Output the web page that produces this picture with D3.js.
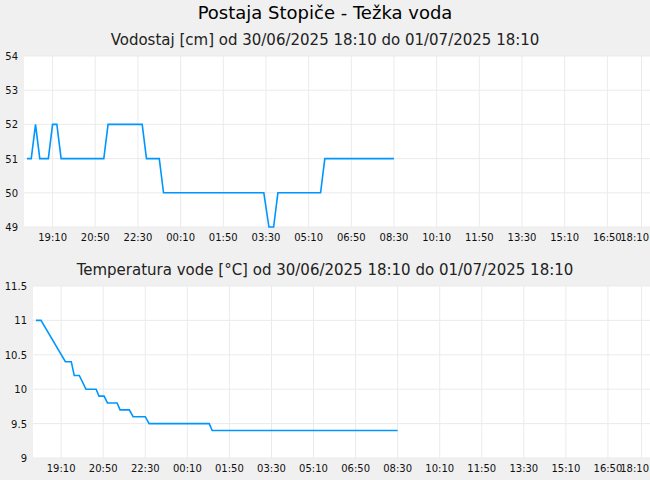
<!DOCTYPE html>
<html><head><meta charset="utf-8">
<script src="https://cdn.jsdelivr.net/npm/d3@7"></script>
<style>body{margin:0;background:#f0f0f0;}svg{display:block;font-family:"DejaVu Sans",sans-serif;}</style>
</head><body><svg id="c" width="650" height="480"></svg>
<script>
const levelTimes = ["06-30 18:10","06-30 18:20","06-30 18:30","06-30 18:40","06-30 19:00","06-30 19:10","06-30 19:20","06-30 19:30","06-30 21:10","06-30 21:20","06-30 22:40","06-30 22:50","06-30 23:20","06-30 23:30","07-01 03:25","07-01 03:37","07-01 03:48","07-01 03:58","07-01 05:38","07-01 05:48","07-01 08:30"];
const levelValues = [51,51,52,51,51,52,52,51,51,52,52,51,51,50,50,49,49,50,50,51,51];
const tempTimes = ["06-30 18:10","06-30 18:22","06-30 19:20","06-30 19:34","06-30 19:41","06-30 19:53","06-30 20:09","06-30 20:33","06-30 20:40","06-30 20:52","06-30 21:00","06-30 21:23","06-30 21:30","06-30 21:52","06-30 22:01","06-30 22:30","06-30 22:39","07-01 01:02","07-01 01:09","07-01 08:30"];
const tempValues = [11,11,10.4,10.4,10.2,10.2,10.0,10.0,9.9,9.9,9.8,9.8,9.7,9.7,9.6,9.6,9.5,9.5,9.4,9.4];
const xTickLabels = ["19:10","20:50","22:30","00:10","01:50","03:30","05:10","06:50","08:30","10:10","11:50","13:30","15:10","16:50","18:10"];
const levelTicks = [49,50,51,52,53,54];
const tempTicks = [9,9.5,10,10.5,11,11.5];

const parse = s => { const [md,hm]=s.split(" "); const [mo,d]=md.split("-").map(Number); const [h,m]=hm.split(":").map(Number); return new Date(2025,mo-1,d,h,m); };
const tickDates = xTickLabels.map((l,i)=>{const [h,m]=l.split(":").map(Number); return i<3 ? new Date(2025,5,30,h,m) : new Date(2025,6,1,h,m);});
const t0 = new Date(2025,5,30,18,3), t1 = new Date(2025,6,1,18,30);
const svg = d3.select("#c");
svg.append("text").attr("x",325).attr("y",19).attr("text-anchor","middle").attr("font-size",18).attr("fill","#000").text("Postaja Stopiče - Težka voda");

function panel(cfg){
  const x = d3.scaleTime().domain([t0,t1]).range([cfg.left,650]);
  const y = d3.scaleLinear().domain(cfg.ydom).range([cfg.bottom,cfg.top]);
  svg.append("text").attr("x",325).attr("y",cfg.top-11).attr("text-anchor","middle").attr("font-size",15).attr("fill","#222").text(cfg.title);
  svg.append("rect").attr("x",cfg.left).attr("y",cfg.top).attr("width",650-cfg.left).attr("height",cfg.bottom-cfg.top).attr("fill","#fff");
  const g = svg.append("g");
  g.selectAll(".v").data(tickDates).join("line").attr("x1",d=>x(d)).attr("x2",d=>x(d)).attr("y1",cfg.top).attr("y2",cfg.bottom).attr("stroke","#ebebeb");
  g.selectAll(".h").data(cfg.yticks).join("line").attr("x1",cfg.left).attr("x2",650).attr("y1",d=>y(d)).attr("y2",d=>y(d)).attr("stroke","#ebebeb");
  g.selectAll(".xl").data(tickDates).join("text").attr("x",(d,i)=>i===tickDates.length-1?649:x(d)).attr("y",cfg.bottom+14).attr("text-anchor",(d,i)=>i===tickDates.length-1?"end":"middle").attr("font-size",10).attr("fill","#111").text((d,i)=>xTickLabels[i]);
  g.selectAll(".yl").data(cfg.yticks).join("text").attr("x",cfg.left-cfg.lpad).attr("y",d=>y(d)+4).attr("text-anchor","end").attr("font-size",10).attr("fill","#111").text(d=>d);
  const data = cfg.times.map((t,i)=>({t:parse(t),v:cfg.values[i]}));
  svg.append("path").datum(data).attr("fill","none").attr("stroke","#0096ff").attr("stroke-width",1.6)
    .attr("d",d3.line().x(d=>x(d.t)).y(d=>y(d.v)));
}
panel({left:24,top:56,bottom:227,ydom:[49,54],yticks:levelTicks,lpad:6,times:levelTimes,values:levelValues,title:"Vodostaj [cm] od 30/06/2025 18:10 do 01/07/2025 18:10"});
panel({left:33,top:286,bottom:458,ydom:[9,11.5],yticks:tempTicks,lpad:6,times:tempTimes,values:tempValues,title:"Temperatura vode [°C] od 30/06/2025 18:10 do 01/07/2025 18:10"});
</script></body></html>
